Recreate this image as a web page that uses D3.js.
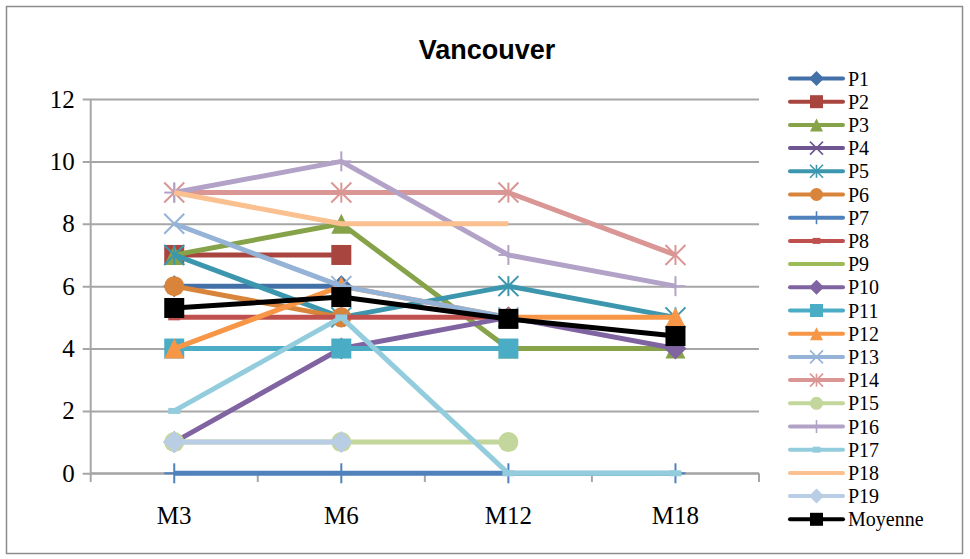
<!DOCTYPE html>
<html><head><meta charset="utf-8">
<script src="https://cdn.jsdelivr.net/npm/d3@7"></script>
<style>body{margin:0;background:#fff;}svg{display:block;}</style>
</head><body>
<script>
const categories = ["M3", "M6", "M12", "M18"];
const yTicks = [0, 2, 4, 6, 8, 10, 12];
const seriesNames = ["P1","P2","P3","P4","P5","P6","P7","P8","P9","P10","P11","P12","P13","P14","P15","P16","P17","P18","P19","Moyenne"];
const P1 = [6, 6, null, null];
const P2 = [7, 7, null, null];
const P3 = [7, 8, 4, 4];
const P4 = [null, null, null, null];
const P5 = [7, 5, 6, 5];
const P6 = [6, 5, null, null];
const P7 = [0, 0, 0, 0];
const P8 = [5, 5, 5, null];
const P9 = [null, null, null, null];
const P10 = [1, 4, 5, 4];
const P11 = [4, 4, 4, null];
const P12 = [4, 6, 5, 5];
const P13 = [8, 6, 5, null];
const P14 = [9, 9, 9, 7];
const P15 = [1, 1, 1, null];
const P16 = [9, 10, 7, 6];
const P17 = [2, 5, 0, 0];
const P18 = [9, 8, 8, null];
const P19 = [1, 1, null, null];
const Moyenne = [5.3, 5.65, 4.95, 4.4];
const seriesValues = [P1,P2,P3,P4,P5,P6,P7,P8,P9,P10,P11,P12,P13,P14,P15,P16,P17,P18,P19,Moyenne];
const colors = ["#4470A8","#A9453F","#86A34A","#6F5690","#3C97AE","#D8843A",
                "#4F81BD","#C0504D","#9BBB59","#8064A2","#4BACC6","#F79646",
                "#95B3D7","#D99694","#C3D69B","#B3A2C7","#93CDDD","#FAC090","#B9CDE5","#000000"];
const markers = ["diamond","square","triangle","x","asterisk","circle","plus","dash","none",
                 "diamond","square","triangle","x","asterisk","circle","plus","dash","none","diamond","square"];

const W = 970, H = 559;
const svg = d3.select("body").append("svg").attr("width", W).attr("height", H);
svg.append("rect").attr("width", W).attr("height", H).attr("fill", "#fff");
svg.append("rect").attr("x", 6.5).attr("y", 6.5).attr("width", 956).attr("height", 547)
  .attr("fill", "none").attr("stroke", "#8c8c8c").attr("stroke-width", 1.5);

const x = d3.scalePoint().domain(categories).range([90.7, 759]).padding(0.5);
const y = d3.scaleLinear().domain([0, 12]).range([473.3, 99]);

svg.append("text").attr("x", 487).attr("y", 50).attr("text-anchor", "middle")
  .attr("dominant-baseline", "central")
  .style("font-family", "'Liberation Sans', Arial, sans-serif").style("font-weight", "bold")
  .style("font-size", "27px").attr("fill", "#000").text("Vancouver");

// grid + y axis
const yAxis = d3.axisLeft(y).tickValues(yTicks).tickSize(-(759 - 90.7)).tickSizeOuter(0).tickPadding(16);
const gy = svg.append("g").attr("transform", "translate(90.7,0)").call(yAxis);
gy.select(".domain").remove();
gy.selectAll(".tick line").attr("x1", -8).attr("stroke", "#a6a6a6").attr("stroke-width", 2);
gy.selectAll(".tick text").style("font-family", "'Liberation Serif', serif").style("font-size", "25px").attr("fill", "#000");
svg.append("line").attr("x1", 90.7).attr("x2", 90.7).attr("y1", 99).attr("y2", 473.3)
  .attr("stroke", "#a6a6a6").attr("stroke-width", 2);

// x axis
const band = x.step();
const boundaries = d3.range(categories.length + 1).map(i => 90.7 + i * band);
svg.append("line").attr("x1", 90.7).attr("x2", 759).attr("y1", 473.3).attr("y2", 473.3)
  .attr("stroke", "#a6a6a6").attr("stroke-width", 2);
svg.selectAll(".xt").data(boundaries).enter().append("line")
  .attr("x1", d => d).attr("x2", d => d).attr("y1", 473.3).attr("y2", 482)
  .attr("stroke", "#a6a6a6").attr("stroke-width", 2);
svg.selectAll(".xl").data(categories).enter().append("text")
  .attr("x", d => x(d)).attr("y", 524).attr("text-anchor", "middle")
  .style("font-family", "'Liberation Serif', serif").style("font-size", "25px").attr("fill", "#000").text(d => d);

function drawMarker(g, type, s, color) {
  const h = s / 2;
  if (type === "diamond") {
    g.append("path").attr("d", `M0,${-h-1}L${h+1},0L0,${h+1}L${-h-1},0Z`).attr("fill", color);
  } else if (type === "square") {
    g.append("rect").attr("x", -h).attr("y", -h).attr("width", s).attr("height", s).attr("fill", color);
  } else if (type === "triangle") {
    g.append("path").attr("d", `M0,${-h}L${h},${h}L${-h},${h}Z`).attr("fill", color);
  } else if (type === "circle") {
    g.append("circle").attr("r", h).attr("fill", color);
  } else if (type === "x" || type === "asterisk" || type === "plus") {
    const lw = s > 15 ? 2 : 1.6;
    if (type !== "plus") {
      g.append("path").attr("d", `M${-h},${-h}L${h},${h}M${h},${-h}L${-h},${h}`).attr("stroke", color).attr("stroke-width", lw).attr("fill", "none");
    }
    if (type !== "x") {
      g.append("path").attr("d", `M0,${-h}L0,${h}`).attr("stroke", color).attr("stroke-width", lw);
    }
    if (type === "plus") {
      g.append("path").attr("d", `M${-h},0L${h},0`).attr("stroke", color).attr("stroke-width", lw);
    }
  } else if (type === "dash") {
    g.append("rect").attr("x", -h * 0.6).attr("y", -3).attr("width", s * 0.6).attr("height", 6).attr("fill", color);
  }
}

const line = d3.line().defined(d => d.v !== null).x(d => x(d.c)).y(d => y(d.v));
const plot = svg.append("g");
seriesValues.forEach((vals, i) => {
  const pts = vals.map((v, j) => ({ c: categories[j], v }));
  const g = plot.append("g");
  g.append("path").datum(pts).attr("d", line).attr("fill", "none")
    .attr("stroke", colors[i]).attr("stroke-width", 5).attr("stroke-linejoin", "round");
  pts.filter(p => p.v !== null).forEach(p => {
    const mg = g.append("g").attr("transform", `translate(${x(p.c)},${y(p.v)})`);
    drawMarker(mg, markers[i], 20, colors[i]);
  });
});

// legend
const legend = svg.append("g");
seriesNames.forEach((name, i) => {
  const cy = 78.5 + i * 23.2;
  const g = legend.append("g").attr("transform", `translate(0,${cy})`);
  g.append("line").attr("x1", 790).attr("x2", 843).attr("y1", 0).attr("y2", 0)
    .attr("stroke", colors[i]).attr("stroke-width", 4).attr("stroke-linecap", "round");
  const mg = g.append("g").attr("transform", "translate(816.5,0)");
  drawMarker(mg, markers[i], 13, colors[i]);
  g.append("text").attr("x", 848).attr("y", 0).attr("dominant-baseline", "central")
    .style("font-family", "'Liberation Serif', serif").style("font-size", "20px").attr("fill", "#000").text(name);
});
</script>
</body></html>
